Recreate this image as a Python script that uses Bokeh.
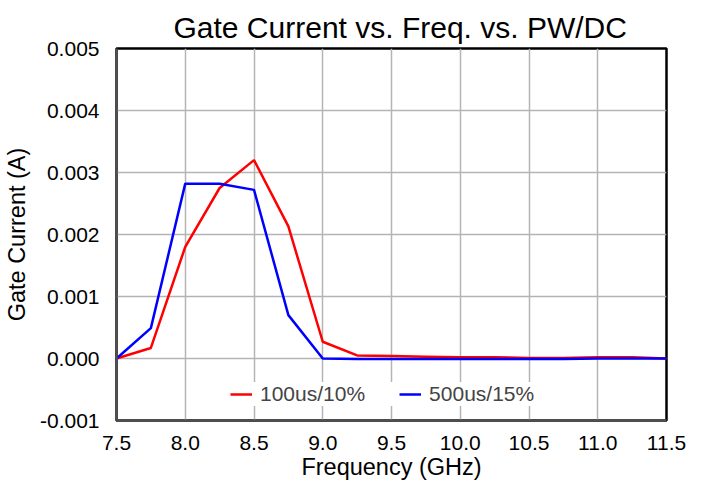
from bokeh.plotting import figure
from bokeh.models import FixedTicker, Range1d, Legend, LegendItem, CustomJSTickFormatter
from bokeh.embed import file_html
from bokeh.resources import INLINE

freq = [7.5, 7.75, 8.0, 8.25, 8.5, 8.75, 9.0, 9.25, 9.5, 9.75, 10.0, 10.25, 10.5, 10.75, 11.0, 11.25, 11.5]
red_100us = [0.0, 0.00017, 0.0018, 0.00275, 0.0032, 0.00213, 0.00027, 0.00005, 0.00004, 0.00003,
             0.00002, 0.00002, 0.00001, 0.00001, 0.00002, 0.00002, 0.0]
blue_500us = [0.0, 0.00049, 0.00282, 0.00282, 0.00272, 0.0007, 0.0, -0.00001, -0.00001, -0.00001,
              -0.00001, -0.00001, -0.00001, -0.00001, 0.0, 0.0, 0.0]
x_ticks = [7.5, 8.0, 8.5, 9.0, 9.5, 10.0, 10.5, 11.0, 11.5]
y_ticks = [-0.001, 0.0, 0.001, 0.002, 0.003, 0.004, 0.005]
series_names = ["100us/10%", "500us/15%"]

FONT = "Liberation Sans"

p = figure(width=690, height=482, output_backend="svg", toolbar_location=None,
           x_range=Range1d(7.5, 11.5), y_range=Range1d(-0.001, 0.005),
           min_border_left=113, min_border_right=24, min_border_top=48, min_border_bottom=62,
           title="Gate Current vs. Freq. vs. PW/DC")

p.title.text_font = FONT
p.title.text_font_size = "30px"
p.title.text_font_style = "normal"
p.title.align = "left"
p.title.text_color = "black"
p.title.offset = 57
p.title.standoff = 10

r1 = p.line(freq, red_100us, line_color="#ff0000", line_width=2.5)
r2 = p.line(freq, blue_500us, line_color="#0000ff", line_width=2.5)

p.xaxis.ticker = FixedTicker(ticks=x_ticks)
p.yaxis.ticker = FixedTicker(ticks=y_ticks)
p.xaxis.formatter = CustomJSTickFormatter(code="return tick.toFixed(1);")
p.yaxis.formatter = CustomJSTickFormatter(code="return tick.toFixed(3);")

for ax in (p.xaxis[0], p.yaxis[0]):
    ax.axis_line_color = "#505050"
    ax.axis_line_width = 2.5
    ax.major_tick_line_color = None
    ax.minor_tick_line_color = None
    ax.major_label_text_font = FONT
    ax.major_label_text_font_size = "21px"
    ax.major_label_text_color = "black"
    ax.axis_label_text_font = FONT
    ax.axis_label_text_font_size = "23.5px"
    ax.axis_label_text_font_style = "normal"
    ax.axis_label_text_color = "black"

p.xaxis.axis_label = "Frequency (GHz)"
p.yaxis.axis_label = "Gate Current (A)"
p.xaxis.major_label_standoff = 9
p.yaxis.major_label_standoff = 11
p.xaxis.axis_label_standoff = 1
p.yaxis.axis_label_standoff = 7

p.grid.grid_line_color = "#b4b4b4"
p.grid.grid_line_width = 1.5

p.outline_line_color = "black"
p.outline_line_width = 2.5
p.background_fill_color = "white"
p.border_fill_color = "white"

legend = Legend(items=[LegendItem(label=series_names[0], renderers=[r1]),
                       LegendItem(label=series_names[1], renderers=[r2])],
                orientation="horizontal", location=(114, 14),
                background_fill_color="white", background_fill_alpha=1.0,
                border_line_color=None, label_text_font=FONT, label_text_font_size="21px",
                glyph_width=22, spacing=34, padding=6, label_standoff=8)
p.add_layout(legend, "center")

open("out.html", "w").write(file_html(p, INLINE))
